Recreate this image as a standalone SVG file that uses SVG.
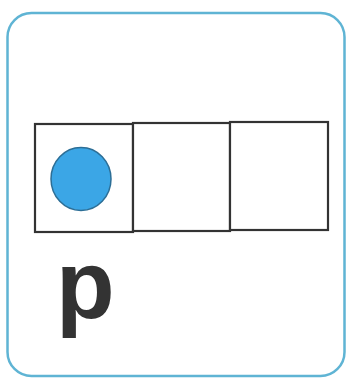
<svg xmlns="http://www.w3.org/2000/svg" width="347" height="378" viewBox="0 0 347 378">
<style>
.frame{fill:#ffffff;stroke:#5fb4d4;stroke-width:2.5}
.cell{fill:#ffffff;stroke:#333333;stroke-width:2.2}
.dot{fill:#3ba6e6;stroke:#2c6e96;stroke-width:1.5}
.letter{font-family:"Liberation Sans",Arial,sans-serif;font-weight:bold;fill:#333333}
</style>
<rect width="347" height="378" fill="#ffffff"/>
<g id="frame"><rect class="frame" x="7.5" y="13" width="337" height="363" rx="24" ry="24"/></g>
<g id="grid">
<rect class="cell" x="35" y="124" width="98" height="108"/>
<rect class="cell" x="133" y="123" width="97" height="108"/>
<rect class="cell" x="230" y="122" width="98" height="108"/>
</g>
<g id="dot"><ellipse class="dot" cx="81" cy="179" rx="30" ry="31.5"/></g>
<g id="label"><text class="letter" x="56" y="318" font-size="96">p</text></g>
</svg>
